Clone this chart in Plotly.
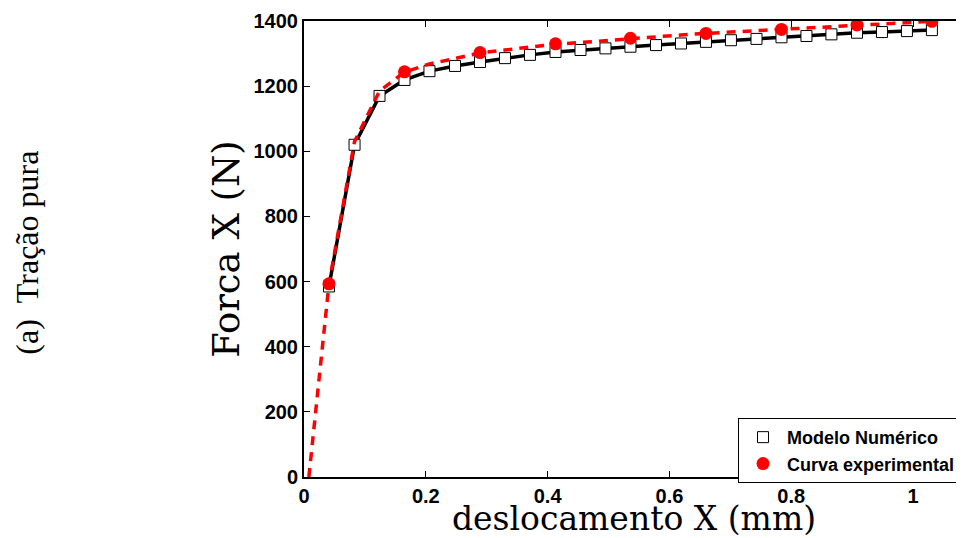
import plotly.graph_objects as go

# Numerical model (squares)
num_x = [0.041, 0.083, 0.124, 0.165, 0.206, 0.248, 0.289, 0.330, 0.371, 0.413,
         0.454, 0.495, 0.536, 0.578, 0.619, 0.660, 0.701, 0.743, 0.784, 0.825,
         0.866, 0.908, 0.949, 0.990, 1.031]
num_y = [585, 1020, 1170, 1219, 1246, 1262, 1274, 1286, 1296, 1305,
         1311, 1316, 1321, 1326, 1331, 1336, 1341, 1345, 1350, 1354,
         1359, 1364, 1366, 1369, 1372]

# Experimental curve (dashed line)
exp_line_x = [0.008, 0.041, 0.083, 0.124, 0.165, 0.206, 0.248, 0.289, 0.330, 0.371,
              0.413, 0.454, 0.495, 0.536, 0.578, 0.619, 0.660, 0.701, 0.743, 0.784,
              0.825, 0.866, 0.908, 0.949, 0.990, 1.031]
exp_line_y = [0, 593, 1030, 1185, 1243, 1268, 1285, 1302, 1311, 1320,
              1329, 1334, 1340, 1347, 1351, 1357, 1362, 1366, 1370, 1374,
              1378, 1383, 1388, 1392, 1395, 1399]

# Experimental markers
exp_x = [0.041, 0.165, 0.289, 0.413, 0.536, 0.660, 0.784, 0.908, 1.031]
exp_y = [593, 1244, 1303, 1330, 1347, 1362, 1374, 1388, 1399]

x_ticks = [0, 0.2, 0.4, 0.6, 0.8, 1]
x_labels = ["0", "0.2", "0.4", "0.6", "0.8", "1"]
y_ticks = [0, 200, 400, 600, 800, 1000, 1200, 1400]

fig = go.Figure()
fig.add_trace(go.Scatter(x=num_x, y=num_y, mode="lines",
                         line=dict(color="black", width=3.5), showlegend=False,
                         hoverinfo="skip"))
fig.add_trace(go.Scatter(x=num_x, y=num_y, mode="markers", name="Modelo Numérico",
                         marker=dict(symbol="square", size=11, color="white",
                                     line=dict(color="black", width=1))))
fig.add_trace(go.Scatter(x=exp_line_x, y=exp_line_y, mode="lines",
                         line=dict(color="red", width=3.5, dash="9px,7px"),
                         showlegend=False, hoverinfo="skip"))
fig.add_trace(go.Scatter(x=exp_x, y=exp_y, mode="markers", name="Curva experimental",
                         marker=dict(symbol="circle", size=13, color="red",
                                     line=dict(color="red", width=0))))

tickfont = dict(family="Liberation Sans", size=20, color="black", weight="bold")

fig.update_layout(
    width=956, height=530,
    margin=dict(l=296, r=0, t=13, b=61, autoexpand=False),
    paper_bgcolor="white", plot_bgcolor="white",
    xaxis=dict(range=[0, 1.0837], tickvals=x_ticks, ticktext=x_labels,
               ticks="inside", ticklen=6, tickcolor="black", tickwidth=1,
               showline=True, linecolor="black", linewidth=2, mirror="ticks",
               showgrid=False, zeroline=False, tickfont=tickfont, automargin=False,
               title=dict(text="deslocamento X (mm)", standoff=2,
                          font=dict(family="DejaVu Serif", size=33, color="black"))),
    yaxis=dict(range=[0, 1400], tickvals=y_ticks,
               ticks="inside", ticklen=6, tickcolor="black", tickwidth=1,
               showline=True, linecolor="black", linewidth=2, mirror=False,
               showgrid=False, zeroline=False, tickfont=tickfont, automargin=False,
               title=dict(text="Forca X (N)", standoff=3,
                          font=dict(family="DejaVu Serif", size=37, color="black"))),
    legend=dict(x=0.6576, y=0.1295, xanchor="left", yanchor="top",
                bgcolor="white", bordercolor="black", borderwidth=1,
                font=dict(family="Liberation Sans", size=18, color="black", weight="bold"),
                tracegroupgap=0, itemwidth=38),
    annotations=[dict(text="(a)\u00a0\u00a0Tração pura", x=-0.419, y=0.493,
                      xref="paper", yref="paper",
                      textangle=-90, showarrow=False, xanchor="center", yanchor="middle",
                      font=dict(family="Liberation Serif", size=32, color="black"))],
)

fig.write_html("out.html")
